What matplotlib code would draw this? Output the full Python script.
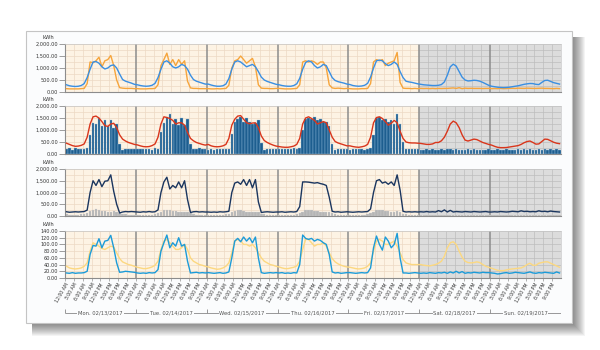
import matplotlib
matplotlib.use("Agg")
import matplotlib.pyplot as plt
from matplotlib.patches import Rectangle
from matplotlib.ticker import FuncFormatter, MultipleLocator

# hourly readings, one list of 24 values per day (Mon 02/13 .. Sun 02/19)
day_labels = ["Mon. 02/13/2017", "Tue. 02/14/2017", "Wed. 02/15/2017", "Thu. 02/16/2017",
              "Fri. 02/17/2017", "Sat. 02/18/2017", "Sun. 02/19/2017"]
hour_labels = ["12:00 AM", "3:00 AM", "6:00 AM", "9:00 AM",
               "12:00 PM", "3:00 PM", "6:00 PM", "9:00 PM"]

p1_blue = [
    [300, 260, 240, 230, 240, 270, 350, 600, 950, 1250, 1270, 1200, 1050, 960, 1000, 1100, 1130, 1000, 750, 520, 450, 410, 370, 320],
    [300, 270, 250, 240, 250, 280, 360, 600, 950, 1250, 1300, 1200, 1050, 1000, 1050, 1150, 1100, 950, 700, 520, 450, 410, 370, 330],
    [330, 290, 260, 240, 240, 260, 330, 560, 950, 1250, 1300, 1250, 1150, 1050, 1100, 1150, 1050, 850, 620, 500, 440, 400, 360, 320],
    [300, 270, 250, 240, 240, 270, 340, 570, 950, 1230, 1300, 1250, 1100, 1000, 1050, 1150, 1100, 850, 600, 480, 430, 400, 370, 330],
    [310, 270, 250, 240, 250, 280, 360, 620, 1000, 1300, 1330, 1300, 1180, 1100, 1150, 1250, 1150, 850, 600, 450, 420, 400, 370, 340],
    [320, 300, 290, 280, 270, 270, 280, 310, 420, 700, 1050, 1160, 1080, 850, 620, 500, 460, 470, 490, 480, 450, 400, 340, 280],
    [240, 220, 200, 190, 185, 190, 200, 220, 240, 260, 290, 320, 340, 355, 350, 320, 310, 400, 480, 490, 440, 390, 360, 330],
]
p1_orange = [
    [140, 130, 130, 130, 130, 140, 150, 350, 1250, 1220, 1300, 1450, 1050, 1300, 1350, 1520, 1100, 500, 180, 160, 150, 150, 150, 140],
    [140, 130, 130, 130, 140, 140, 150, 300, 1100, 1350, 1620, 1150, 1350, 1100, 1350, 1150, 1300, 450, 170, 150, 150, 140, 140, 140],
    [140, 130, 130, 140, 130, 140, 150, 280, 1000, 1300, 1350, 1500, 1350, 1200, 1300, 1400, 1050, 300, 160, 150, 150, 140, 140, 150],
    [150, 140, 130, 130, 130, 140, 150, 300, 1250, 1300, 1250, 1300, 1250, 1150, 1250, 1250, 1000, 300, 170, 150, 160, 150, 140, 150],
    [140, 130, 130, 130, 140, 140, 150, 350, 1250, 1350, 1300, 1350, 1100, 1200, 1250, 1300, 1650, 400, 160, 150, 150, 140, 150, 140],
    [150, 145, 150, 140, 150, 140, 150, 145, 150, 150, 160, 170, 150, 180, 140, 160, 150, 155, 150, 150, 150, 145, 150, 150],
    [140, 145, 140, 150, 140, 145, 150, 155, 150, 160, 155, 150, 160, 155, 150, 150, 155, 160, 150, 150, 145, 140, 150, 140],
]
p2_red = [
    [450, 400, 350, 320, 330, 360, 420, 700, 1250, 1550, 1580, 1500, 1350, 1180, 1150, 1250, 1280, 1100, 800, 620, 540, 480, 440, 400],
    [380, 340, 310, 300, 310, 350, 420, 700, 1250, 1550, 1520, 1480, 1400, 1250, 1300, 1300, 1200, 900, 650, 550, 480, 440, 400, 370],
    [400, 340, 310, 300, 310, 340, 400, 650, 1200, 1450, 1580, 1600, 1450, 1300, 1260, 1290, 1300, 1100, 750, 560, 480, 420, 370, 330],
    [310, 290, 280, 280, 300, 330, 400, 650, 1250, 1500, 1550, 1480, 1400, 1250, 1300, 1350, 1300, 1000, 700, 520, 460, 420, 380, 340],
    [340, 310, 290, 280, 300, 330, 400, 700, 1300, 1520, 1550, 1480, 1350, 1200, 1280, 1400, 1300, 950, 650, 500, 470, 460, 460, 450],
    [440, 420, 400, 400, 420, 480, 480, 550, 700, 950, 1250, 1370, 1300, 1100, 800, 580, 540, 580, 620, 600, 540, 480, 440, 400],
    [370, 320, 280, 265, 265, 270, 290, 310, 330, 350, 400, 470, 520, 540, 480, 410, 420, 520, 620, 610, 550, 490, 450, 430],
]
p2_bars = [
    [200, 260, 180, 230, 200, 220, 200, 260, 800, 1300, 1250, 1480, 1150, 1420, 1150, 1400, 1100, 1250, 400, 170, 200, 190, 210, 190],
    [200, 190, 220, 200, 210, 180, 230, 200, 900, 1300, 1550, 1650, 1250, 1450, 1200, 1500, 1200, 1450, 400, 200, 210, 230, 200, 190],
    [180, 200, 170, 210, 190, 220, 200, 220, 850, 1350, 1450, 1550, 1350, 1500, 1350, 1250, 1300, 1400, 450, 180, 200, 220, 200, 210],
    [200, 210, 190, 220, 200, 230, 190, 260, 1000, 1450, 1500, 1450, 1550, 1400, 1450, 1350, 1350, 1150, 400, 180, 200, 220, 200, 190],
    [180, 200, 190, 210, 200, 180, 210, 250, 800, 1500, 1550, 1400, 1450, 1350, 1400, 1250, 1650, 1250, 500, 200, 190, 210, 200, 220],
    [170, 150, 190, 160, 200, 150, 180, 210, 160, 190, 200, 170, 190, 160, 180, 170, 200, 160, 190, 170, 160, 180, 160, 190],
    [170, 160, 190, 170, 150, 190, 160, 180, 170, 200, 160, 190, 170, 200, 160, 180, 190, 160, 200, 170, 190, 160, 200, 160],
]
p3_navy = [
    [180, 160, 170, 180, 170, 180, 190, 250, 1000, 1500, 1300, 1550, 1250, 1480, 1500, 1750, 1050, 500, 130, 170, 190, 180, 190, 180],
    [170, 160, 180, 170, 190, 170, 180, 260, 1000, 1450, 1650, 1150, 1300, 1200, 1450, 1200, 1500, 700, 150, 180, 190, 170, 180, 170],
    [170, 160, 170, 160, 180, 170, 180, 200, 1000, 1400, 1450, 1350, 1550, 1300, 1550, 1200, 1550, 600, 150, 170, 180, 170, 160, 170],
    [170, 180, 160, 170, 180, 170, 190, 400, 1450, 1450, 1440, 1420, 1400, 1420, 1380, 1350, 1300, 800, 200, 170, 180, 160, 170, 180],
    [170, 160, 170, 180, 170, 180, 190, 300, 1000, 1500, 1550, 1400, 1450, 1350, 1450, 1300, 1750, 1100, 200, 170, 180, 170, 180, 170],
    [180, 170, 190, 170, 180, 170, 230, 180, 260, 170, 240, 170, 190, 180, 170, 190, 180, 170, 190, 180, 170, 180, 190, 170],
    [170, 180, 170, 190, 180, 170, 180, 200, 190, 180, 220, 190, 200, 180, 190, 180, 220, 190, 200, 180, 210, 190, 180, 170],
]
p3_gray = [
    [70, 60, 60, 60, 60, 70, 80, 120, 200, 250, 280, 270, 230, 200, 190, 180, 200, 180, 120, 80, 70, 60, 60, 60],
    [60, 60, 60, 60, 60, 60, 70, 110, 190, 240, 260, 250, 220, 200, 190, 180, 190, 170, 110, 70, 60, 60, 60, 60],
    [60, 60, 60, 60, 60, 60, 70, 100, 180, 230, 250, 240, 210, 190, 180, 180, 190, 160, 100, 70, 60, 60, 60, 60],
    [60, 60, 60, 60, 60, 60, 70, 110, 190, 240, 250, 240, 220, 200, 190, 180, 190, 170, 110, 70, 60, 60, 60, 60],
    [60, 60, 60, 60, 60, 60, 70, 110, 190, 240, 260, 250, 220, 200, 190, 180, 200, 170, 100, 70, 60, 60, 60, 60],
    [45, 40, 40, 40, 40, 40, 45, 45, 50, 50, 50, 50, 50, 50, 50, 50, 50, 45, 45, 45, 40, 40, 40, 40],
    [40, 40, 40, 40, 40, 40, 40, 45, 45, 50, 50, 50, 50, 50, 50, 50, 45, 45, 45, 45, 40, 40, 40, 40],
]
p4_blue = [
    [15, 14, 16, 14, 15, 15, 16, 20, 70, 97, 95, 117, 90, 110, 112, 127, 90, 45, 17, 18, 20, 19, 18, 17],
    [15, 14, 15, 14, 16, 15, 16, 25, 80, 105, 128, 90, 105, 95, 120, 95, 100, 50, 15, 16, 17, 15, 16, 15],
    [16, 15, 14, 15, 16, 14, 15, 18, 60, 110, 118, 108, 122, 110, 120, 105, 122, 60, 16, 14, 15, 16, 15, 16],
    [15, 16, 14, 15, 14, 16, 15, 40, 128, 118, 115, 118, 110, 115, 112, 105, 100, 70, 18, 15, 16, 14, 15, 16],
    [16, 15, 14, 15, 16, 15, 16, 30, 90, 125, 100, 83, 122, 110, 90, 100, 133, 60, 15, 15, 14, 15, 16, 15],
    [14, 15, 14, 16, 15, 14, 16, 15, 17, 14, 18, 15, 20, 15, 19, 14, 16, 15, 17, 16, 15, 17, 16, 16],
    [15, 14, 12, 13, 15, 16, 14, 15, 17, 16, 15, 14, 16, 18, 15, 14, 16, 15, 17, 16, 15, 14, 18, 15],
]
p4_yellow = [
    [35, 30, 28, 27, 28, 30, 35, 45, 80, 105, 100, 95, 88, 85, 90, 95, 92, 75, 58, 48, 44, 40, 38, 35],
    [32, 30, 28, 28, 30, 33, 38, 50, 85, 110, 115, 105, 95, 85, 85, 90, 100, 85, 60, 50, 45, 40, 38, 35],
    [33, 30, 28, 26, 27, 30, 35, 45, 75, 110, 115, 110, 100, 100, 95, 100, 90, 75, 60, 50, 45, 40, 38, 35],
    [33, 30, 28, 28, 30, 32, 36, 50, 85, 115, 115, 105, 95, 100, 100, 105, 95, 75, 58, 48, 42, 38, 35, 33],
    [32, 30, 28, 27, 28, 30, 35, 45, 80, 110, 115, 110, 100, 100, 105, 110, 95, 75, 55, 45, 42, 40, 40, 40],
    [40, 38, 37, 36, 38, 40, 44, 50, 65, 90, 105, 108, 100, 80, 62, 50, 46, 45, 46, 48, 46, 40, 35, 32],
    [29, 26, 23, 22, 22, 24, 26, 27, 28, 29, 30, 34, 40, 44, 38, 38, 44, 46, 48, 48, 44, 40, 36, 32],
]


def flat(days):
    return [v for day in days for v in day]


hours = [h + 0.5 for h in range(168)]

W, H = 600, 350


def rect(x0, y0, x1, y1):
    # pixel box (from top-left) -> figure fraction
    return [x0 / W, 1 - y1 / H, (x1 - x0) / W, (y1 - y0) / H]


fig = plt.figure(figsize=(6, 3.5), dpi=100)
fig.patch.set_facecolor("white")

# card with drop shadow
cx0, cy0, cx1, cy1 = 26, 31, 572, 323
for k in range(2, 14):
    r = rect(cx0 + 6, cy0 + 6, cx1 + k, cy1 + k)
    fig.patches.append(Rectangle((r[0], r[1]), r[2], r[3], transform=fig.transFigure,
                                 facecolor="black", alpha=0.045, lw=0, zorder=-3))
r = rect(cx0, cy0, cx1, cy1)
fig.patches.append(Rectangle((r[0], r[1]), r[2], r[3], transform=fig.transFigure,
                             facecolor="#fbfcfd", edgecolor="#c4c4c4", lw=0.8, zorder=-2))

cream_grid = "#ecd9c4"
gray_grid = "#bdbdbd"


def setup(ax, ymax, ystep, ygrid):
    ax.set_xlim(0, 168)
    ax.set_ylim(0, ymax)
    ax.set_facecolor("#fdf3e4")
    ax.axvspan(120, 168, color="#dcdcdc", lw=0, zorder=0)
    for x in range(3, 168, 3):
        if x % 24:
            ax.axvline(x, color=gray_grid if x > 120 else cream_grid, lw=0.5, zorder=0.5)
    y = ygrid
    while y < ymax + 0.1:
        ax.hlines(y, 0, 120, color=cream_grid, lw=0.5, zorder=0.5)
        ax.hlines(y, 120, 168, color=gray_grid, lw=0.5, zorder=0.5)
        y += ygrid
    for d in range(1, 7):
        ax.axvline(24 * d, color="#8c8c8c", lw=1.1, zorder=1)
    for s in ["left", "bottom"]:
        ax.spines[s].set_color("#8c8c8c")
        ax.spines[s].set_linewidth(0.8)
    for s in ["top", "right"]:
        ax.spines[s].set_color("#c8c8c8")
        ax.spines[s].set_linewidth(0.5)
    ax.yaxis.set_major_locator(MultipleLocator(ystep))
    ax.yaxis.set_major_formatter(FuncFormatter(lambda v, p: f"{v:,.2f}"))
    ax.tick_params(axis="y", labelsize=3.6, length=4, width=0.5, color="#777777",
                   pad=1, labelcolor="#333333")
    ax.tick_params(axis="x", bottom=False, labelbottom=False)
    ax.text(-0.034, 1.14, "kWh", transform=ax.transAxes, ha="center", va="center",
            fontsize=3.8, color="#333333")


ax1 = fig.add_axes(rect(65, 44, 561, 92))
setup(ax1, 2000, 500, 250)
ax1.plot(hours, flat(p1_orange), color="#f6a53c", lw=1.0, zorder=3)
ax1.plot(hours, flat(p1_blue), color="#3a8fe2", lw=1.0, zorder=4)

ax2 = fig.add_axes(rect(65, 106, 561, 154))
setup(ax2, 2000, 500, 250)
ax2.bar(hours, flat(p2_bars), width=0.85, color="#1d5e8f", edgecolor="#9fc6e3",
        linewidth=0.25, zorder=2)
ax2.plot(hours, flat(p2_red), color="#d9361c", lw=1.0, zorder=4)

ax3 = fig.add_axes(rect(65, 169, 561, 216))
setup(ax3, 2000, 500, 250)
ax3.bar(hours, flat(p3_gray), width=0.8, color="#b5b5b5", edgecolor="#d6d6d6",
        linewidth=0.2, zorder=2)
ax3.plot(hours, flat(p3_navy), color="#1b365f", lw=1.0, zorder=4)

ax4 = fig.add_axes(rect(65, 231, 561, 278))
setup(ax4, 140, 20, 20)
ax4.plot(hours, flat(p4_yellow), color="#fcd880", lw=1.0, zorder=3)
ax4.plot(hours, flat(p4_blue), color="#1c9bd8", lw=1.0, zorder=4)
ax4.set_xticks(range(0, 168, 3))
ax4.set_xticklabels(hour_labels * 7, rotation=60, ha="right", va="top",
                    rotation_mode="anchor")
ax4.tick_params(axis="x", bottom=True, labelbottom=True, labelsize=3.3, length=2,
                width=0.4, color="#777777", labelcolor="#333333", pad=1)

# day brackets under the time axis
axd = fig.add_axes(rect(65, 300, 561, 320))
axd.set_xlim(0, 168)
axd.set_ylim(20, 0)
axd.axis("off")
axd.hlines(13, 0, 168, color="#888888", lw=0.6)
for d in range(8):
    axd.vlines(24 * d, 9, 13, color="#888888", lw=0.6)
for d, lab in enumerate(day_labels):
    axd.text(24 * d + 12, 13, lab, ha="center", va="center", fontsize=3.8, color="#555555",
             bbox=dict(facecolor="#fbfcfd", edgecolor="none", pad=0.6))

fig.savefig("out.png", dpi=100)
